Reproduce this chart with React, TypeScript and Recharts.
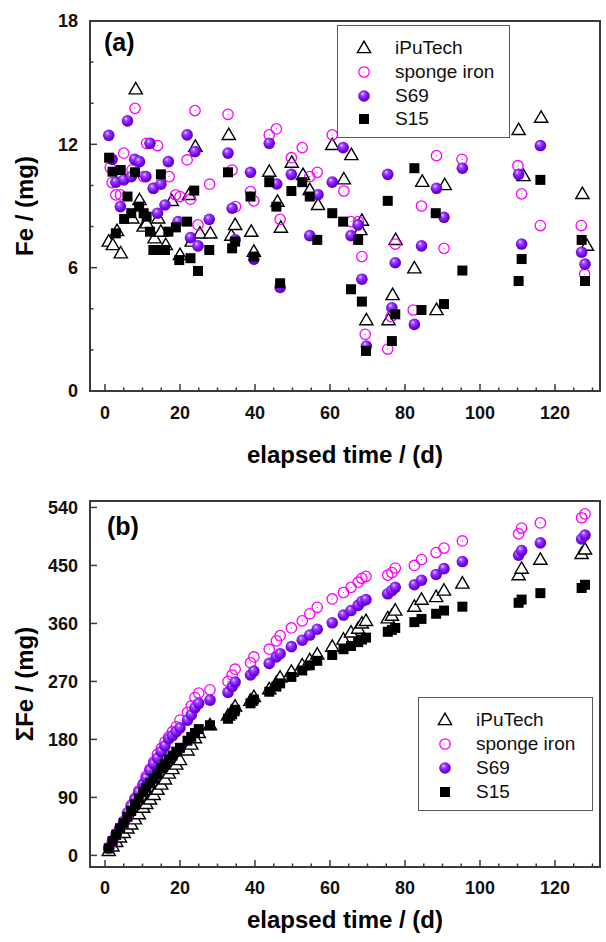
import { ScatterChart, Scatter, XAxis, YAxis, ReferenceArea } from "recharts";

const FONT = '"Liberation Sans", Arial, Helvetica, sans-serif';
const AXIS = "#3a3a3a";
const MAGENTA = "#ff00ff";

// ---- panel (a): Fe released per sampling, mg (each sample has its own read-off days)
const iPuDays = [1.0, 2.1, 3.2, 4.2, 7.3, 8.2, 9.2, 10.3, 11.1, 13.2, 14.2, 14.9, 16.2, 17.8, 20.0, 22.4, 23.1, 24.1, 25.3, 28.1, 33.0, 33.7, 34.7, 39.0, 39.7, 43.8, 46.0, 46.9, 49.8, 52.8, 54.6, 56.8, 60.6, 63.7, 65.7, 68.1, 68.5, 69.7, 75.6, 76.7, 77.5, 82.5, 84.6, 88.4, 90.6, 110.3, 111.6, 116.3, 127.3, 128.5];
const iPuFe = [7.27, 7.1, 7.79, 6.7, 8.4, 14.68, 9.29, 8.0, 8.16, 7.43, 8.4, 7.75, 7.1, 9.25, 6.62, 9.54, 7.27, 11.89, 7.67, 7.67, 12.46, 7.56, 8.08, 7.75, 6.78, 10.67, 9.21, 7.95, 11.11, 10.51, 9.78, 9.05, 11.97, 10.3, 11.48, 7.83, 8.29, 3.45, 3.45, 4.67, 7.35, 5.97, 10.18, 3.94, 10.02, 12.7, 10.46, 13.3, 9.59, 7.07];

const spongeDays = [1.4, 1.9, 2.9, 4.1, 5.0, 7.2, 8.0, 10.3, 11.1, 12.9, 14.0, 17.1, 18.8, 20.0, 21.9, 22.8, 24.0, 24.8, 27.9, 32.8, 33.9, 34.8, 38.8, 39.7, 43.8, 45.7, 46.7, 49.7, 52.6, 54.6, 56.6, 60.6, 63.7, 65.6, 67.6, 68.5, 69.4, 75.4, 76.3, 77.4, 82.2, 84.4, 88.4, 90.4, 95.2, 110.1, 111.1, 116.1, 127.0, 127.9];
const spongeFe = [10.87, 10.14, 9.54, 9.54, 11.57, 10.75, 13.75, 10.43, 12.05, 9.86, 11.94, 10.43, 9.54, 9.46, 11.24, 9.33, 13.64, 8.08, 10.06, 13.46, 10.75, 8.97, 9.7, 9.25, 12.46, 12.75, 8.35, 11.35, 11.84, 10.43, 10.64, 12.46, 9.73, 8.24, 8.24, 6.54, 2.76, 2.04, 3.62, 7.15, 3.94, 9.0, 11.45, 6.94, 11.27, 10.96, 9.59, 8.05, 8.05, 5.68];

const s69Days = [1.0, 1.9, 2.9, 4.1, 5.0, 6.0, 7.0, 7.9, 9.2, 10.9, 12.0, 12.9, 14.0, 14.9, 16.0, 16.9, 19.5, 21.9, 22.8, 24.0, 24.8, 27.8, 32.8, 33.9, 34.7, 38.8, 39.7, 43.8, 45.8, 46.7, 49.7, 54.6, 56.8, 60.6, 63.5, 65.6, 67.5, 68.5, 69.7, 75.4, 76.5, 77.4, 82.5, 84.4, 88.4, 90.4, 95.3, 110.3, 111.1, 116.1, 127.1, 128.0];
const s69Fe = [12.44, 11.27, 10.16, 8.97, 10.27, 13.14, 10.43, 11.27, 11.16, 10.43, 12.05, 9.86, 8.65, 10.06, 9.05, 11.16, 8.24, 12.46, 7.46, 11.65, 7.06, 8.35, 11.57, 8.89, 7.35, 10.64, 6.41, 12.05, 10.07, 5.04, 10.54, 7.56, 9.55, 10.16, 11.84, 7.56, 8.08, 5.44, 2.19, 10.54, 4.05, 6.24, 3.24, 7.06, 9.86, 8.45, 10.84, 10.54, 7.15, 11.94, 6.75, 6.17];

const s15Days = [1.1, 2.0, 2.9, 4.2, 5.1, 6.0, 7.0, 8.0, 9.1, 10.3, 11.1, 12.0, 12.9, 14.2, 14.9, 16.0, 16.9, 18.9, 19.8, 21.9, 22.8, 23.8, 24.8, 27.8, 32.8, 33.9, 34.7, 38.8, 39.7, 43.8, 45.7, 46.7, 49.7, 52.6, 54.6, 56.6, 60.6, 63.5, 65.6, 67.5, 68.5, 69.6, 75.4, 76.5, 77.4, 82.5, 84.4, 88.2, 90.4, 95.3, 110.3, 111.1, 116.1, 127.1, 128.0];
const s15Fe = [11.35, 10.67, 7.67, 10.75, 8.37, 9.46, 8.65, 10.64, 8.97, 8.65, 8.48, 7.75, 6.86, 6.86, 10.54, 6.86, 7.75, 7.96, 6.37, 8.24, 6.46, 9.75, 5.84, 6.86, 10.64, 6.94, 7.27, 9.46, 6.54, 10.16, 8.97, 5.24, 9.73, 10.16, 9.46, 7.35, 8.65, 8.24, 4.95, 7.35, 4.35, 1.95, 9.25, 2.43, 3.73, 10.84, 3.94, 8.65, 4.23, 5.86, 5.35, 6.42, 10.27, 7.35, 5.35];

// ---- panel (b): cumulative Fe, mg
const cumDays = [1, 2, 3, 4, 5, 6, 7, 8, 9, 10.2, 11, 12, 13, 14, 15, 16, 17, 18, 19, 20, 22, 23, 24, 25, 28, 32.8, 33.9, 34.7, 38.8, 39.7, 43.8, 45.7, 46.7, 49.7, 52.6, 54.6, 56.6, 60.6, 63.6, 65.6, 67.5, 68.5, 69.6, 75.4, 76.5, 77.4, 82.5, 84.4, 88.3, 90.4, 95.3, 110.3, 111.1, 116.1, 127.1, 128.0];
const iPuSum = [7, 14, 21, 28, 35, 42, 48, 56, 64, 74, 80, 87, 94, 102, 110, 118, 127, 134, 141, 148, 163, 172, 182, 190, 202, 217, 224, 231, 240, 246, 258, 268, 276, 285, 295, 303, 312, 324, 335, 346, 352, 360, 364, 368, 372, 380, 386, 397, 401, 411, 422, 435, 445, 459, 468, 475];
const spongeSum = [11, 21, 31, 41, 52, 62, 78, 89, 100, 111, 123, 134, 145, 157, 166, 176, 184, 192, 200, 210, 222, 232, 245, 252, 257, 270, 280, 289, 299, 308, 320, 333, 341, 353, 364, 375, 385, 398, 408, 416, 424, 430, 433, 435, 439, 446, 450, 459, 470, 477, 488, 499, 508, 516, 524, 530];
const s69Sum = [12, 23, 34, 43, 53, 66, 76, 87, 98, 110, 120, 132, 142, 151, 161, 170, 181, 186, 192, 198, 210, 218, 229, 236, 241, 253, 262, 269, 280, 286, 298, 308, 313, 324, 334, 342, 351, 361, 373, 380, 388, 394, 397, 406, 411, 416, 420, 427, 436, 445, 456, 466, 473, 485, 491, 497];
const s15Sum = [11, 22, 32, 42, 50, 60, 69, 79, 88, 98, 105, 112, 119, 126, 135, 142, 149, 155, 161, 167, 178, 184, 190, 196, 202, 212, 219, 226, 236, 242, 254, 262, 267, 277, 287, 295, 302, 311, 320, 325, 331, 335, 338, 347, 350, 353, 362, 367, 375, 380, 386, 392, 397, 407, 415, 420];

const timeTicks = [0, 5, 10, 15, 20, 25, 30, 35, 40, 45, 50, 55, 60, 65, 70, 75, 80, 85, 90, 95, 100, 105, 110, 115, 120, 125, 130];
const feTicks = [0, 2, 4, 6, 8, 10, 12, 14, 16, 18];
const sumTicks = [0, 90, 180, 270, 360, 450, 540];

const zip = (xs: number[], ys: number[]) => xs.map((x, i) => ({ x, y: ys[i] }));

// ---- markers
const TriangleDot = ({ cx, cy }: any) => (
  <path
    d={`M${cx},${cy - 6.8} L${cx + 6.6},${cy + 4.6} L${cx - 6.6},${cy + 4.6} Z`}
    fill="#fff"
    stroke="#000"
    strokeWidth={1.4}
    strokeLinejoin="miter"
  />
);
const RingDot = ({ cx, cy }: any) => (
  <g>
    <circle cx={cx} cy={cy} r={5.2} fill="none" stroke={MAGENTA} strokeWidth={1.3} />
    <circle cx={cx} cy={cy} r={0.6} fill={MAGENTA} />
  </g>
);
const BallDot = ({ cx, cy }: any) => <circle cx={cx} cy={cy} r={5.8} fill="url(#s69ball)" />;
const SquareDot = ({ cx, cy }: any) => <rect x={cx - 5} y={cy - 5} width={10} height={10} fill="#000" />;

const SERIES = [
  { name: "iPuTech", Mark: TriangleDot },
  { name: "sponge iron", Mark: RingDot },
  { name: "S69", Mark: BallDot },
  { name: "S15", Mark: SquareDot },
];

// ---- axes
const XTick = ({ x, y, payload, labelDy }: any) => {
  const major = payload.value % 20 === 0;
  return (
    <g>
      <line x1={x} x2={x} y1={y} y2={y - (major ? 7 : 3.5)} stroke={AXIS} strokeWidth={1.5} />
      {major && (
        <text x={x} y={y + labelDy} textAnchor="middle" fontFamily={FONT} fontWeight="bold" fontSize={18} fill="#111">
          {payload.value}
        </text>
      )}
    </g>
  );
};

const YTick = ({ x, y, payload, every }: any) => {
  const major = payload.value % every === 0;
  return (
    <g>
      <line x1={x} x2={x + (major ? 7 : 3.5)} y1={y} y2={y} stroke={AXIS} strokeWidth={1.5} />
      {major && (
        <text x={x - 12} y={y} dy="0.36em" textAnchor="end" fontFamily={FONT} fontWeight="bold" fontSize={18} fill="#111">
          {payload.value}
        </text>
      )}
    </g>
  );
};

const xTitle = (baseline: number) => (props: any) => {
  const vb = props.viewBox;
  return (
    <text x={vb.x + vb.width / 2} y={vb.y + baseline} textAnchor="middle" fontFamily={FONT} fontWeight="bold" fontSize={24} fill="#000">
      elapsed time / (d)
    </text>
  );
};

const yTitle = (text: string) => (props: any) => {
  const vb = props.viewBox;
  const tx = vb.x + 33;
  const ty = vb.y + vb.height / 2;
  return (
    <text x={tx} y={ty} transform={`rotate(-90 ${tx} ${ty})`} textAnchor="middle" fontFamily={FONT} fontWeight="bold" fontSize={24} fill="#000">
      {text}
    </text>
  );
};

function LegendBox({ left, top, width, height, first, step }: any) {
  return (
    <div
      style={{
        position: "absolute",
        left,
        top,
        width,
        height,
        boxSizing: "border-box",
        border: "1.5px solid #5a5a5a",
        background: "#fff",
      }}
    >
      {SERIES.map(({ name, Mark }, i) => (
        <div
          key={name}
          style={{ position: "absolute", left: 0, top: first + i * step - 12, height: 24, display: "flex", alignItems: "center" }}
        >
          <svg width={52} height={24} style={{ display: "block" }}>
            <Mark cx={26} cy={12} />
          </svg>
          <span style={{ marginLeft: 5, fontFamily: FONT, fontSize: 19, color: "#111", lineHeight: "24px" }}>{name}</span>
        </div>
      ))}
    </div>
  );
}

function Panel({ height, margin, xAxisHeight, labelDy, titleBaseline, yDomain, yTicks, every, yText, data }: any) {
  return (
    <ScatterChart width={606} height={height} margin={margin}>
      <XAxis
        type="number"
        dataKey="x"
        domain={[-4, 132]}
        ticks={timeTicks}
        interval={0}
        allowDataOverflow
        axisLine={false}
        tickLine={false}
        tickSize={0}
        tickMargin={0}
        height={xAxisHeight}
        tick={(p: any) => <XTick {...p} labelDy={labelDy} />}
        label={xTitle(titleBaseline)}
      />
      <YAxis
        type="number"
        dataKey="y"
        domain={yDomain}
        ticks={yTicks}
        interval={0}
        allowDataOverflow
        axisLine={false}
        tickLine={false}
        tickSize={0}
        tickMargin={0}
        width={90}
        tick={(p: any) => <YTick {...p} every={every} />}
        label={yTitle(yText)}
      />
      <ReferenceArea
        x1={-4}
        x2={132}
        y1={yDomain[0]}
        y2={yDomain[1]}
        fill="none"
        fillOpacity={0}
        stroke={AXIS}
        strokeWidth={2}
        ifOverflow="visible"
      />
      {SERIES.map(({ name, Mark }, i) => (
        <Scatter
          key={name}
          name={name}
          data={data[i]}
          isAnimationActive={false}
          shape={(p: any) => <Mark cx={p.cx} cy={p.cy} />}
        />
      ))}
    </ScatterChart>
  );
}

export default function App() {
  const dataA = [zip(iPuDays, iPuFe), zip(spongeDays, spongeFe), zip(s69Days, s69Fe), zip(s15Days, s15Fe)];
  const dataB = [zip(cumDays, iPuSum), zip(cumDays, spongeSum), zip(cumDays, s69Sum), zip(cumDays, s15Sum)];

  return (
    <div style={{ position: "absolute", left: 0, top: 0, width: 606, height: 942, background: "#fff" }}>
      <svg width={0} height={0} style={{ position: "absolute" }}>
        <defs>
          <radialGradient id="s69ball" cx="0.45" cy="0.42" r="0.62" fx="0.36" fy="0.3">
            <stop offset="0%" stopColor="#e6d2ff" />
            <stop offset="28%" stopColor="#9d45ff" />
            <stop offset="70%" stopColor="#7400ec" />
            <stop offset="100%" stopColor="#5400bd" />
          </radialGradient>
        </defs>
      </svg>

      <div style={{ position: "absolute", left: 0, top: 0 }}>
        <Panel
          height={470}
          margin={{ top: 21, right: 6, bottom: 0, left: 0 }}
          xAxisHeight={79}
          labelDy={28}
          titleBaseline={72}
          yDomain={[0, 18]}
          yTicks={feTicks}
          every={6}
          yText="Fe / (mg)"
          data={dataA}
        />
      </div>
      <div style={{ position: "absolute", left: 0, top: 470 }}>
        <Panel
          height={472}
          margin={{ top: 31, right: 6, bottom: 0, left: 0 }}
          xAxisHeight={75}
          labelDy={27}
          titleBaseline={61}
          yDomain={[-18, 550]}
          yTicks={sumTicks}
          every={90}
          yText="ΣFe / (mg)"
          data={dataB}
        />
      </div>

      <svg width={606} height={942} style={{ position: "absolute", left: 0, top: 0, pointerEvents: "none" }}>
        <text x={104} y={51} fontFamily={FONT} fontWeight="bold" fontSize={25} fill="#000">(a)</text>
        <text x={107} y={535} fontFamily={FONT} fontWeight="bold" fontSize={25} fill="#000">(b)</text>
      </svg>

      <LegendBox left={337} top={25} width={173} height={113} first={22} step={23.8} />
      <LegendBox left={418} top={697} width={175} height={114} first={21.5} step={24.2} />
    </div>
  );
}
